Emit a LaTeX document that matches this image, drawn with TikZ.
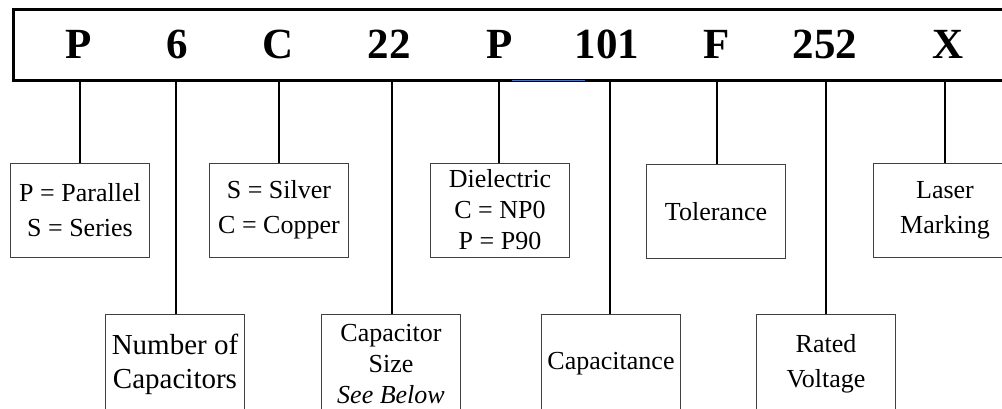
\documentclass[tikz,border=0pt]{standalone}
\usepackage{fontspec}
\setmainfont{Liberation Serif}
\begin{document}
\begin{tikzpicture}[x=1pt,y=-1pt,
  barbox/.style={draw,line width=3pt,inner sep=0pt,anchor=north west},
  code/.style={font=\fontsize{43}{43}\selectfont\bfseries,anchor=base,inner sep=0pt},
  box/.style={draw=black!75,line width=0.9pt,align=center,inner sep=0pt,
    minimum width=139pt,font=\fontsize{26}{35}\selectfont},
  upbox/.style={box,minimum height=94pt},
  lowbox/.style={box,minimum height=100pt},
  conn/.style={line width=2pt}]
\useasboundingbox (0,0) rectangle (1002,408);
\clip (0,0) rectangle (1002,408);
\fill[white] (0,0) rectangle (1002,408);
% top bar
\node[barbox,minimum width=1010pt,minimum height=71pt] (bar) at (12,8) {};
\node[code] (c1) at (79,58) {P};
\node[code] (c2) at (177,58) {6};
\node[code] (c3) at (278,58) {C};
\node[code] (c4) at (389,58) {22};
\node[code] (c5) at (500,58) {P};
\node[code] (c6) at (607,58) {101};
\node[code] (c7) at (717,58) {F};
\node[code] (c8) at (825,58) {252};
\node[code] (c9) at (948,58) {X};
\coordinate (bl1) at (512,80.5);
\coordinate (bl2) at (585,80.5);
\draw[draw={rgb,255:red,68;green,114;blue,196},line width=1.2pt] (bl1) -- (bl2);
% upper boxes
\node[upbox] (b1) at (80,210) {P = Parallel\\S = Series};
\node[upbox] (b3) at (279,210) {S = Silver\\C = Copper};
\node[upbox,font=\fontsize{26}{31}\selectfont] (b5) at (500,210) {Dielectric\\C = NP0\\P = P90};
\node[upbox] (b7) at (716,211.5) {Tolerance};
\node[upbox,minimum width=144pt] (b9) at (945,210) {Laser\\Marking};
% lower boxes
\node[lowbox,font=\fontsize{29}{34}\selectfont] (b2) at (175,364) {Number of\\Capacitors};
\node[lowbox,font=\fontsize{26}{31}\selectfont] (b4) at (391,364) {Capacitor\\Size\\\textit{See Below}};
\node[lowbox] (b6) at (611,364) {Capacitance};
\node[lowbox] (b8) at (826,364) {Rated\\Voltage};
% connectors
\draw[conn] (bar.south -| 80,0) -- (b1.north -| 80,0);
\draw[conn] (bar.south -| 176,0) -- (b2.north -| 176,0);
\draw[conn] (bar.south -| 279,0) -- (b3.north -| 279,0);
\draw[conn] (bar.south -| 392,0) -- (b4.north -| 392,0);
\draw[conn] (bar.south -| 499,0) -- (b5.north -| 499,0);
\draw[conn] (bar.south -| 610,0) -- (b6.north -| 610,0);
\draw[conn] (bar.south -| 717,0) -- (b7.north -| 717,0);
\draw[conn] (bar.south -| 826,0) -- (b8.north -| 826,0);
\draw[conn] (bar.south -| 945,0) -- (b9.north -| 945,0);
\end{tikzpicture}
\end{document}
